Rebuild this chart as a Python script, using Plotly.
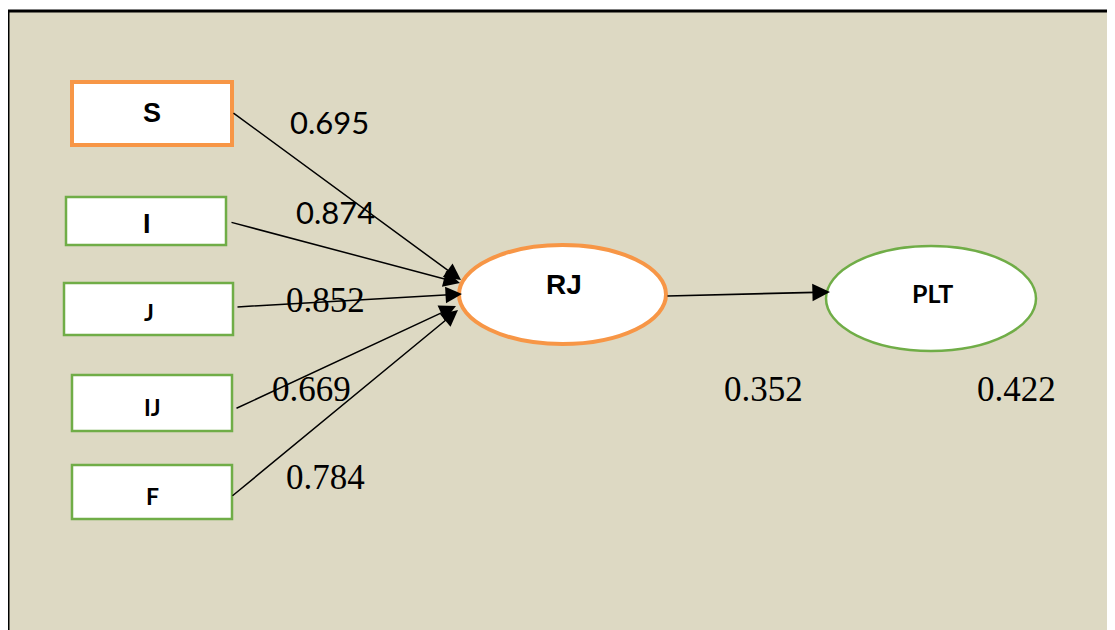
import plotly.graph_objects as go

# ---- data ----
indicators = ["S", "I", "J", "IJ", "F"]
loadings = [0.695, 0.874, 0.852, 0.669, 0.784]
mediator = "RJ"
outcome = "PLT"
path_coef = 0.352
r_squared = 0.422

# ---- layout geometry (page pixels) ----
W, H = 1115, 630
OFF = 8  # page body margin
boxes = {
    "S": (72, 82, 232, 145),
    "I": (66, 197, 226, 245),
    "J": (64, 283, 233, 335),
    "IJ": (72, 375, 232, 431),
    "F": (72, 465, 232, 519),
}
box_text = {"S": (152, 113), "I": (147, 224), "J": (149, 312), "IJ": (152, 407), "F": (152, 496)}
box_font = {"S": ("Liberation Sans", 27), "I": ("Liberation Sans", 27),
            "J": ("Lato", 23), "IJ": ("Lato", 23), "F": ("Lato", 23)}
arrow_start = {"S": (232, 112), "I": (230, 222), "J": (236, 307), "IJ": (235, 409), "F": (231, 497)}
arrow_end = {"S": (461, 280), "I": (460, 283), "J": (462, 294), "IJ": (456, 306), "F": (458, 310)}
num_pos = {"S": (329, 122), "I": (335, 212), "J": (325, 300), "IJ": (311, 389), "F": (325, 477)}
num_font = {"S": "Lato", "I": "Lato", "J": "Liberation Serif", "IJ": "Liberation Serif", "F": "Liberation Serif"}

ORANGE = "#F79646"
GREEN = "#70AD47"
BG = "#DDD9C3"

fig = go.Figure()
shapes = []
annotations = []

# frame
shapes.append(dict(type="rect", x0=8, y0=11, x1=1135, y1=650,
                   line=dict(color="black", width=3), fillcolor=BG, layer="below"))

for name in indicators:
    x0, y0, x1, y1 = boxes[name]
    is_s = name == "S"
    shapes.append(dict(type="rect", x0=x0, y0=y0, x1=x1, y1=y1, fillcolor="white",
                       line=dict(color=ORANGE if is_s else GREEN, width=4 if is_s else 2.5)))
    tx, ty = box_text[name]
    fam, sz = box_font[name]
    annotations.append(dict(x=tx, y=ty, text=f"<b>{name}</b>", showarrow=False,
                            font=dict(family=fam, size=sz, color="black"),
                            xanchor="center", yanchor="middle"))

# ellipses
shapes.append(dict(type="circle", x0=459, y0=245, x1=666, y1=344, fillcolor="white",
                   line=dict(color=ORANGE, width=4)))
shapes.append(dict(type="circle", x0=826, y0=246, x1=1036, y1=351, fillcolor="white",
                   line=dict(color=GREEN, width=2.5)))
annotations.append(dict(x=564, y=284, text=f"<b>{mediator}</b>", showarrow=False,
                        font=dict(family="Liberation Sans", size=28, color="black")))
annotations.append(dict(x=932, y=293, text=f"<b>{outcome}</b>", showarrow=False,
                        font=dict(family="Lato", size=25, color="black")))

# arrows
for name in indicators:
    sx, sy = arrow_start[name]
    ex, ey = arrow_end[name]
    annotations.append(dict(x=ex, y=ey, ax=sx, ay=sy, xref="x", yref="y", axref="x", ayref="y",
                            text="", showarrow=True, arrowhead=2, arrowsize=2.2,
                            arrowwidth=1.5, arrowcolor="black"))
annotations.append(dict(x=830, y=292, ax=666, ay=296, xref="x", yref="y", axref="x", ayref="y",
                        text="", showarrow=True, arrowhead=2, arrowsize=2.2,
                        arrowwidth=1.6, arrowcolor="black"))

# numbers
for name, val in zip(indicators, loadings):
    nx, ny = num_pos[name]
    fam = num_font[name]
    annotations.append(dict(x=nx, y=ny, text=f"{val:.3f}", showarrow=False,
                            font=dict(family=fam, size=31 if fam == "Lato" else 35, color="black")))
annotations.append(dict(x=763, y=389, text=f"{path_coef:.3f}", showarrow=False,
                        font=dict(family="Liberation Serif", size=35, color="black")))
annotations.append(dict(x=1016, y=389, text=f"{r_squared:.3f}", showarrow=False,
                        font=dict(family="Liberation Serif", size=35, color="black")))

fig.update_layout(
    width=W, height=H, margin=dict(l=0, r=0, t=0, b=0),
    paper_bgcolor="white", plot_bgcolor="white",
    xaxis=dict(range=[OFF, W + OFF], visible=False, fixedrange=True),
    yaxis=dict(range=[H + OFF, OFF], visible=False, fixedrange=True),
    shapes=shapes, annotations=annotations, showlegend=False,
)
fig.write_html("out.html")
